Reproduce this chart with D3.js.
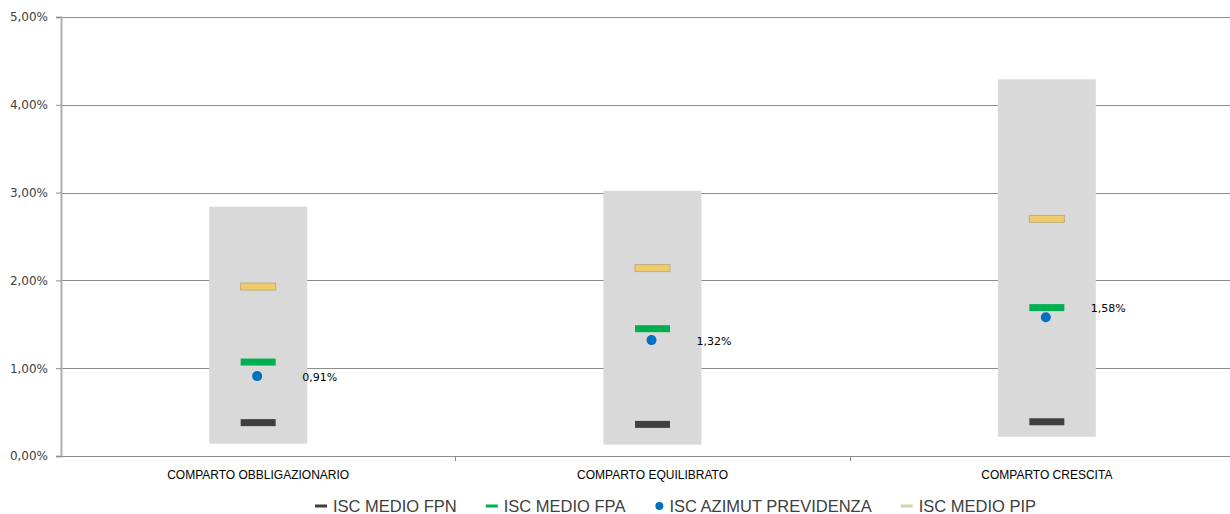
<!DOCTYPE html>
<html>
<head>
<meta charset="utf-8">
<script src="https://cdn.jsdelivr.net/npm/d3@7"></script>
<style>
  body { margin: 0; background: #fff; }
  svg { display: block; }
</style>
</head>
<body>
<div id="chart"></div>
<script>
var svgWidth = 1230
var svgHeight = 514

// data (percent values)
var categories = ["COMPARTO OBBLIGAZIONARIO", "COMPARTO EQUILIBRATO", "COMPARTO CRESCITA"]
var rangeMin = [0.14, 0.13, 0.22]
var rangeMax = [2.84, 3.02, 4.29]
var fpn = [0.38, 0.36, 0.39]
var fpa = [1.07, 1.45, 1.69]
var azimut = [0.91, 1.32, 1.58]
var pip = [1.93, 2.14, 2.70]
var yTicks = [0, 1, 2, 3, 4, 5]

var legendItems = [
  {name: "ISC MEDIO FPN", type: "dash", color: "#404040"},
  {name: "ISC MEDIO FPA", type: "dash", color: "#00B050"},
  {name: "ISC AZIMUT PREVIDENZA", type: "dot", color: "#0070C0"},
  {name: "ISC MEDIO PIP", type: "dash", color: "#D8CCAE"}
]

var margin = {top: 17, left: 61, bottom: 58}
var plotRight = 1244
var plotHeight = svgHeight - margin.top - margin.bottom

var svg = d3.select("#chart")
    .append("svg")
    .attr("width", svgWidth)
    .attr("height", svgHeight)

var chartGroup = svg.append("g")
    .attr("transform", `translate(${margin.left}, ${margin.top})`)

var xScale = d3.scaleBand()
    .domain(categories)
    .range([0, plotRight - margin.left])

var yScale = d3.scaleLinear()
    .domain([0, 5])
    .range([plotHeight, 0])

var fmt = v => v.toFixed(2).replace(".", ",") + "%"

// gridlines
chartGroup.selectAll(".grid")
    .data(yTicks.slice(1))
    .enter()
    .append("line")
    .attr("x1", 0)
    .attr("x2", plotRight - margin.left)
    .attr("y1", d => Math.round(yScale(d)) + 0.5)
    .attr("y2", d => Math.round(yScale(d)) + 0.5)
    .attr("stroke", "#8c8c8c")
    .attr("stroke-width", 1)

// y axis
var yAxis = chartGroup.append("g")
    .call(d3.axisLeft(yScale).tickValues(yTicks).tickSize(5).tickFormat(fmt))
yAxis.select(".domain").attr("stroke", "#b0b0b0").attr("stroke-width", 2)
yAxis.selectAll(".tick line").attr("stroke", "#8c8c8c")
yAxis.selectAll(".tick text")
    .attr("x", -13)
    .attr("fill", "#404040")
    .style("font-family", "DejaVu Sans, sans-serif")
    .style("font-size", "12px")

// x axis
var xAxis = chartGroup.append("g")
    .attr("transform", `translate(0, ${plotHeight})`)
    .call(d3.axisBottom(xScale).tickSize(0).tickPadding(14))
xAxis.select(".domain").attr("stroke", "#8c8c8c")
xAxis.selectAll(".tick text")
    .attr("fill", "#000")
    .style("font-family", "Liberation Sans, sans-serif")
    .style("font-size", "12px")

// tick marks between categories
chartGroup.selectAll(".sep")
    .data(categories.slice(1))
    .enter()
    .append("line")
    .attr("x1", d => Math.round(xScale(d)) + 0.5)
    .attr("x2", d => Math.round(xScale(d)) + 0.5)
    .attr("y1", plotHeight)
    .attr("y2", plotHeight + 5)
    .attr("stroke", "#8c8c8c")

var boxW = 98
var dashW = 35
var dashH = 7
var cx = d => xScale(d) + xScale.bandwidth() / 2

// range boxes
chartGroup.selectAll(".range")
    .data(categories)
    .enter()
    .append("rect")
    .attr("x", d => cx(d) - boxW / 2)
    .attr("width", boxW)
    .attr("y", (d, i) => yScale(rangeMax[i]))
    .attr("height", (d, i) => yScale(rangeMin[i]) - yScale(rangeMax[i]))
    .attr("fill", "#D9D9D9")

function drawDash(values, fill, stroke) {
  chartGroup.selectAll(null)
      .data(categories)
      .enter()
      .append("rect")
      .attr("x", d => cx(d) - dashW / 2)
      .attr("width", dashW)
      .attr("y", (d, i) => yScale(values[i]) - dashH / 2)
      .attr("height", dashH)
      .attr("fill", fill)
      .attr("stroke", stroke)
      .attr("stroke-width", stroke == "none" ? 0 : 1)
}

drawDash(pip, "#F0CB6A", "#BFAE7E")
drawDash(fpa, "#00B050", "none")
drawDash(fpn, "#404040", "none")

// azimut points
chartGroup.selectAll(".dot")
    .data(categories)
    .enter()
    .append("circle")
    .attr("cx", d => cx(d) - 1)
    .attr("cy", (d, i) => yScale(azimut[i]))
    .attr("r", 5)
    .attr("fill", "#0070C0")

// data labels (last one sits a bit higher, as in the original)
var labelShift = [0, 0, -10]
chartGroup.selectAll(".lbl")
    .data(categories)
    .enter()
    .append("text")
    .attr("x", d => cx(d) + 44)
    .attr("y", (d, i) => yScale(azimut[i]) + 5 + labelShift[i])
    .attr("fill", "#000")
    .style("font-family", "DejaVu Sans, sans-serif")
    .style("font-size", "11px")
    .text((d, i) => fmt(azimut[i]))

// legend
var legend = svg.append("g")
    .attr("transform", "translate(0, 506)")
var lx = 315
legendItems.forEach(function(item) {
  var g = legend.append("g").attr("transform", `translate(${lx}, 0)`)
  if (item.type == "dash") {
    g.append("rect").attr("x", 0).attr("y", -1.5).attr("width", 12).attr("height", 3).attr("fill", item.color)
  } else {
    g.append("circle").attr("cx", 5).attr("cy", 0).attr("r", 4).attr("fill", item.color)
  }
  var t = g.append("text")
      .attr("x", item.type == "dash" ? 18 : 15)
      .attr("y", 5.5)
      .attr("fill", "#404040")
      .style("font-family", "Liberation Sans, sans-serif")
      .style("font-size", "16.5px")
      .text(item.name)
  lx += (item.type == "dash" ? 18 : 15) + t.node().getComputedTextLength() + 29
})
</script>
</body>
</html>
